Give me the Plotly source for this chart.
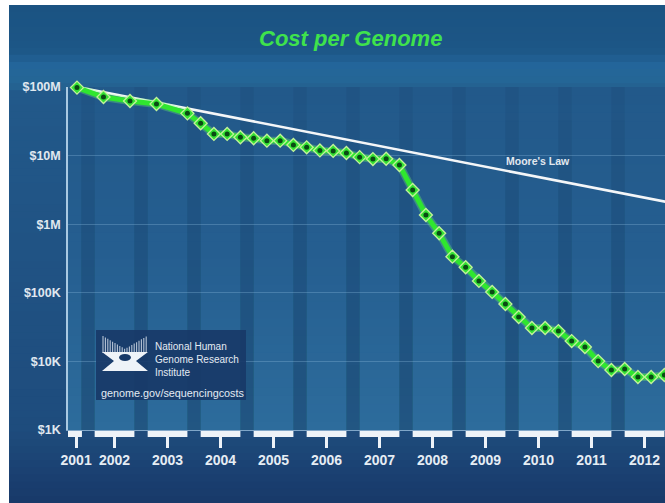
import plotly.graph_objects as go

# ---------------- data ----------------
dates = ["2001-09", "2002-03", "2002-09", "2003-03", "2003-10",
         "2004-01", "2004-04", "2004-07", "2004-10",
         "2005-01", "2005-04", "2005-07", "2005-10",
         "2006-01", "2006-04", "2006-07", "2006-10",
         "2007-01", "2007-04", "2007-07", "2007-10",
         "2008-01", "2008-04", "2008-07", "2008-10",
         "2009-01", "2009-04", "2009-07", "2009-10",
         "2010-01", "2010-04", "2010-07", "2010-10",
         "2011-01", "2011-04", "2011-07", "2011-10",
         "2012-01", "2012-04", "2012-07", "2012-10"]
costs = [98.0e6, 71.5e6, 62.5e6, 56.5e6, 41.3e6,
         29.6e6, 20.7e6, 20.7e6, 18.5e6,
         17.9e6, 16.5e6, 16.5e6, 14.3e6,
         13.2e6, 11.9e6, 11.7e6, 10.9e6,
         9.5e6, 8.9e6, 9.0e6, 7.3e6,
         3.15e6, 1.36e6, 737e3, 336e3,
         236e3, 149e3, 103e3, 68.7e3,
         44.4e3, 30.7e3, 30.7e3, 27.7e3,
         19.8e3, 16.2e3, 10.1e3, 7.5e3,
         7.75e3, 5.93e3, 5.93e3, 6.34e3]

moore_dates = ["2001-09", "2013-01"]
moore_costs = [1.0e8, 1.96e6]

years = [2001, 2002, 2003, 2004, 2005, 2006, 2007, 2008, 2009, 2010, 2011, 2012]
year_labels = [str(y) for y in years]

ytick_vals = [1e3, 1e4, 1e5, 1e6, 1e7, 1e8]
ytick_text = ["$1K", "$10K", "$100K", "$1M", "$10M", "$100M"]


def dec(d):
    y, m = d.split("-")
    return int(y) + (int(m) - 1) / 12.0


# ---------------- layout geometry ----------------
W, H = 665, 503
L, R, T, B = 68, 0, 87, 73
PW, PH = W - L - R, H - T - B
X0 = 2001.497
X1 = X0 + PW / 53.0


def pxx(p):
    return (p - L) / PW


def pxy(p):
    return (H - B - p) / PH


def dx(t):
    return (t - X0) / (X1 - X0)


def hex2rgb(h):
    h = h.lstrip("#")
    return tuple(int(h[i:i + 2], 16) for i in (0, 2, 4))


def interp(stops, y):
    for (y0, c0), (y1, c1) in zip(stops, stops[1:]):
        if y0 <= y <= y1:
            f = (y - y0) / (y1 - y0) if y1 > y0 else 0
            a, b = hex2rgb(c0), hex2rgb(c1)
            return "rgb(%d,%d,%d)" % tuple(round(a[i] + (b[i] - a[i]) * f) for i in range(3))
    return stops[-1][1]


shapes = []

# figure background gradient
bg_stops = [(5, "#1b5382"), (50, "#1c5686"), (66, "#23659a"), (86, "#256794"),
            (90, "#22598a"), (430, "#1e4c7d"), (503, "#183969")]
n = 70
for i in range(n):
    y0 = 5 + (503 - 5) * i / n
    y1 = 5 + (503 - 5) * (i + 1) / n + 1.0
    shapes.append(dict(type="rect", xref="paper", yref="paper",
                       x0=pxx(9), x1=pxx(666), y0=pxy(min(y1, 503)), y1=pxy(y0),
                       fillcolor=interp(bg_stops, (y0 + y1) / 2), line=dict(width=0),
                       layer="below"))

# plot-area gradient
pa_stops = [(87, "#22598a"), (250, "#255e90"), (430, "#2d6c9c")]
n = 40
for i in range(n):
    y0 = 87 + (430 - 87) * i / n
    y1 = 87 + (430 - 87) * (i + 1) / n + 1.0
    shapes.append(dict(type="rect", xref="paper", yref="paper",
                       x0=0, x1=1, y0=pxy(min(y1, 430)), y1=pxy(y0),
                       fillcolor=interp(pa_stops, (y0 + y1) / 2), line=dict(width=0),
                       layer="below"))

# darker vertical stripes between years (gradually stronger toward the bottom)
for y in years[:-1]:
    shapes.append(dict(type="rect", xref="paper", yref="paper",
                       x0=dx(y + 0.75), x1=dx(y + 1.0), y0=0, y1=1,
                       fillcolor="rgba(16,48,90,0.10)", line=dict(width=0), layer="below"))
    for k in range(8):
        top = 120 + k * 35
        shapes.append(dict(type="rect", xref="paper", yref="paper",
                           x0=dx(y + 0.75), x1=dx(y + 1.0), y0=0, y1=pxy(top),
                           fillcolor="rgba(16,48,90,0.035)", line=dict(width=0),
                           layer="below"))

# white year bars under the axis
for y in years:
    a = X0 if y == 2001 else y
    b = 2001.76 if y == 2001 else y + 0.75
    shapes.append(dict(type="rect", xref="paper", yref="paper",
                       x0=dx(a), x1=dx(b), y0=pxy(437), y1=pxy(431),
                       fillcolor="#eef3f8", line=dict(width=0), layer="above"))

# NHGRI box
shapes.append(dict(type="rect", xref="paper", yref="paper",
                   x0=pxx(96), x1=pxx(246), y0=pxy(400), y1=pxy(330),
                   fillcolor="rgba(24,58,104,0.92)", line=dict(width=0), layer="above"))

# logo: striped upper half
for k in range(19):
    xp = 103 + k * 2.4
    top = 336 + 13 * (1 - abs(xp - 125) / 22.0)
    shapes.append(dict(type="line", xref="paper", yref="paper",
                       x0=pxx(xp), x1=pxx(xp), y0=pxy(353), y1=pxy(top),
                       line=dict(color="rgba(235,242,250,0.75)", width=1.1), layer="above"))


def ppath(pts):
    return "M" + " L".join("%.5f,%.5f" % (pxx(a), pxy(b)) for a, b in pts) + " Z"


shapes.append(dict(type="path", xref="paper", yref="paper",
                   path=ppath([(102, 352), (148, 352), (136, 361), (148, 371),
                               (102, 371), (114, 361)]),
                   fillcolor="#eef3f8", line=dict(width=0), layer="above"))
shapes.append(dict(type="circle", xref="paper", yref="paper",
                   x0=pxx(119), x1=pxx(131), y0=pxy(361), y1=pxy(354),
                   fillcolor="rgb(24,58,104)", line=dict(width=0), layer="above"))

# ---------------- traces ----------------
xs = [dec(d) for d in dates]
fig = go.Figure()
fig.add_trace(go.Scatter(
    x=[dec(d) for d in moore_dates], y=moore_costs, mode="lines",
    line=dict(color="#f4f6f8", width=2.6), hoverinfo="skip", showlegend=False))
fig.add_trace(go.Scatter(
    x=xs, y=costs, mode="lines",
    line=dict(color="rgba(120,255,110,0.30)", width=8), hoverinfo="skip",
    showlegend=False, cliponaxis=False))
fig.add_trace(go.Scatter(
    x=xs, y=costs, mode="lines+markers",
    line=dict(color="#2fe62f", width=5),
    marker=dict(symbol="diamond", size=10, color="#33e233",
                line=dict(color="#c2f29a", width=1.3)),
    showlegend=False, cliponaxis=False))
fig.add_trace(go.Scatter(
    x=xs, y=costs, mode="markers",
    marker=dict(symbol="circle", size=5, color="#0b4a14", line=dict(width=0)),
    hoverinfo="skip", showlegend=False, cliponaxis=False))

FONT = "Liberation Sans, Arial, sans-serif"
annotations = [
    dict(text="Cost per Genome", xref="paper", yref="paper", x=pxx(350), y=pxy(39),
         showarrow=False, xanchor="center", yanchor="middle",
         font=dict(family=FONT, size=22, color="#3fe24c", weight="bold", style="italic")),
    dict(text="Moore's Law", xref="paper", yref="paper", x=pxx(538), y=pxy(161),
         showarrow=False, xanchor="center", yanchor="middle",
         font=dict(family=FONT, size=10.5, color="#e2e8ef", weight="bold")),
]
for i, line in enumerate(["National Human", "Genome Research", "Institute"]):
    annotations.append(dict(text=line, xref="paper", yref="paper", x=pxx(153),
                            y=pxy(346 + i * 13), showarrow=False, xanchor="left",
                            yanchor="middle",
                            font=dict(family=FONT, size=10, color="#e4ebf3")))
annotations.append(dict(text="genome.gov/sequencingcosts", xref="paper", yref="paper",
                        x=pxx(99), y=pxy(393), showarrow=False, xanchor="left",
                        yanchor="middle", font=dict(family=FONT, size=10.8, color="#e4ebf3")))

xtick_vals = [2001.65] + [y + 0.375 for y in years[1:]]

fig.update_layout(
    width=W, height=H,
    margin=dict(l=L, r=R, t=T, b=B, pad=0, autoexpand=False),
    paper_bgcolor="white", plot_bgcolor="rgba(0,0,0,0)",
    shapes=shapes, annotations=annotations, showlegend=False,
    xaxis=dict(range=[X0, X1], tickvals=xtick_vals, ticktext=year_labels,
               showgrid=False, zeroline=False, showline=True,
               linecolor="rgba(170,205,232,0.7)", linewidth=1,
               ticks="outside", ticklen=17, tickwidth=3, tickcolor="#eef3f8",
               tickfont=dict(family=FONT, size=14, color="#e6edf4", weight="bold"),
               fixedrange=True),
    yaxis=dict(type="log", range=[3, 8], tickvals=ytick_vals, ticktext=ytick_text,
               showgrid=True, gridcolor="rgba(150,195,228,0.30)", gridwidth=1,
               zeroline=False, showline=True, linecolor="#a9c9e2", linewidth=1.5,
               ticks="outside", ticklen=3, tickcolor="rgba(0,0,0,0)",
               tickfont=dict(family=FONT, size=12.5, color="#e0e8f0", weight="bold"),
               fixedrange=True),
)

fig.write_html("out.html", config={"displayModeBar": False},
               post_script="document.body.style.margin='0px';")
